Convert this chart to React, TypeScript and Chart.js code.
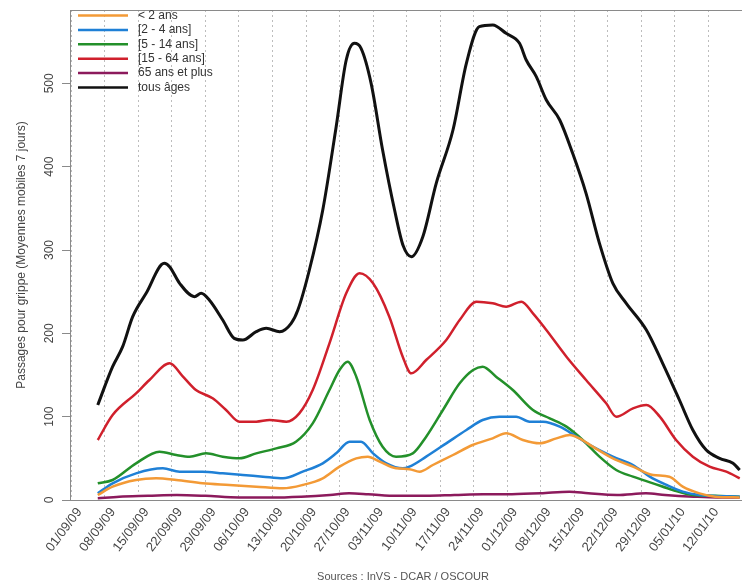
import React, { useEffect, useRef } from "react";
import Chart from "chart.js/auto";

const FONT = "'Liberation Sans', Arial, sans-serif";

const seriesLabels = ["< 2 ans", "[2 - 4 ans]", "[5 - 14 ans]", "[15 - 64 ans]", "65 ans et plus", "tous âges"];
const seriesColors = ["#f39a36", "#1f80d6", "#23902a", "#d0202c", "#8c1a5c", "#111111"];

const dateLabels = [
  "01/09/09", "08/09/09", "15/09/09", "22/09/09", "29/09/09", "06/10/09", "13/10/09",
  "20/10/09", "27/10/09", "03/11/09", "10/11/09", "17/11/09", "24/11/09", "01/12/09",
  "08/12/09", "15/12/09", "22/12/09", "29/12/09", "05/01/10", "12/01/10",
];

// days since 01/09/09
const daysUnder2 = [5.5, 8.6, 13.5, 17.7, 21.9, 27.4, 33, 38.6, 44.2, 48.3, 52.5, 56, 59.5, 61.9, 64.4, 67.8, 70.6, 72.7, 75.5, 79.7, 83.8, 88, 90.8, 94.3, 97.8, 101.3, 104.1, 106.1, 108.9, 113.1, 117.3, 121.5, 124.9, 127.7, 131.2, 134.5, 139.6];
const valuesUnder2 = [6, 16, 24, 26, 24, 20, 18, 16, 14, 18, 26, 40, 50, 52, 46, 38, 37, 34, 42, 54, 66, 74, 80, 72, 68, 74, 78, 74, 64, 50, 40, 30, 28, 16, 8, 4, 3];

const days2to4 = [5.5, 8.6, 13.5, 19.1, 22.6, 27.4, 31.6, 35.8, 40, 44.2, 48.3, 52.5, 55.3, 58.1, 60.5, 63, 65.8, 69.2, 70.6, 74.1, 78.3, 82.5, 85.9, 89.4, 92.9, 95.7, 98.5, 102, 105.5, 108.9, 113.1, 117.3, 120.8, 124.3, 127.7, 131.2, 139.6];
const values2to4 = [8, 20, 32, 38, 34, 34, 32, 30, 28, 26, 34, 44, 56, 70, 70, 56, 44, 38, 40, 52, 68, 84, 96, 100, 100, 94, 94, 88, 76, 64, 52, 42, 28, 18, 10, 6, 4];

const days5to14 = [5.5, 8.6, 13.5, 18.4, 21.9, 24.7, 28.1, 31.6, 35.1, 38.6, 42.8, 46.9, 50.4, 53.9, 56, 57.7, 59.5, 62.3, 65, 67.8, 71.3, 74.1, 77.6, 81.1, 83.9, 85.9, 88.7, 92.2, 96.4, 99.9, 103.4, 106.8, 110.3, 113.8, 117.3, 121.5, 125.6, 129.8, 134.5, 139.6];
const values5to14 = [20, 24, 44, 58, 54, 52, 56, 52, 50, 56, 62, 70, 92, 132, 156, 166, 148, 96, 64, 52, 56, 76, 108, 140, 156, 160, 148, 132, 108, 98, 88, 72, 52, 36, 28, 20, 12, 6, 5, 4];

const days15to64 = [5.5, 8.6, 13.5, 16.3, 20.5, 23.3, 26, 29.5, 32.3, 35.1, 38.6, 41.4, 44.9, 47.6, 50.4, 53.9, 57.4, 60.2, 63, 66.4, 69.2, 71, 74.1, 78.3, 81.1, 84.6, 88, 90.8, 94, 96.4, 99.2, 103.4, 107.5, 111.7, 113.8, 117.3, 120.1, 122.9, 126.3, 129.8, 133.3, 136.8, 139.6];
const values15to64 = [72, 102, 128, 144, 164, 148, 132, 122, 108, 94, 94, 96, 94, 104, 132, 188, 248, 272, 260, 220, 172, 152, 168, 192, 216, 238, 236, 232, 238, 224, 204, 172, 144, 116, 100, 110, 114, 100, 72, 52, 40, 34, 26];

const days65plus = [5.5, 10, 16, 22, 28, 35, 42, 48, 54, 58, 62, 68, 74, 80, 86, 92, 98, 104, 108, 114, 120, 124, 130, 135, 139.6];
const values65plus = [2, 4, 5, 6, 5, 3, 3, 4, 6, 8, 7, 5, 5, 6, 7, 7, 8, 10, 8, 6, 8, 6, 4, 3, 3];

const daysAll = [5.5, 8.6, 10.7, 12.8, 15.6, 19.4, 20.5, 22.6, 25.7, 27.1, 28.8, 31.6, 34, 35.8, 38.6, 40.7, 43.5, 45.9, 47.3, 49.7, 52.5, 55.3, 57.4, 59.1, 60.5, 62.6, 65, 67.5, 69.3, 71, 73.4, 76.2, 79.7, 82.5, 85.2, 88, 90.8, 93.6, 95, 97.1, 99.2, 102, 104.7, 107.5, 110.3, 113.1, 115.9, 120.1, 123.5, 127, 129.8, 132.6, 135.4, 138.2, 139.6];
const valuesAll = [114, 160, 184, 220, 248, 284, 280, 260, 244, 248, 240, 216, 194, 192, 202, 206, 202, 212, 228, 276, 348, 448, 528, 548, 542, 500, 420, 348, 305, 292, 316, 380, 444, 524, 568, 570, 560, 548, 528, 508, 480, 456, 416, 368, 308, 260, 236, 204, 164, 120, 84, 60, 50, 44, 36];

const yTitle = "Passages pour grippe (Moyennes mobiles 7 jours)";
const sourceText = "Sources : InVS - DCAR / OSCOUR";

const seriesDays = [daysUnder2, days2to4, days5to14, days15to64, days65plus, daysAll];
const seriesValues = [valuesUnder2, values2to4, values5to14, values15to64, values65plus, valuesAll];

const extrasPlugin = {
  id: "extras",
  beforeDatasetsDraw(chart: any) {
    const { ctx, chartArea } = chart;
    ctx.save();
    ctx.strokeStyle = "#8a8a8a";
    ctx.lineWidth = 1;
    ctx.strokeRect(chartArea.left + 0.5, chartArea.top + 0.5, chartArea.right - chartArea.left, chartArea.bottom - chartArea.top);
    ctx.restore();
  },
  afterDatasetsDraw(chart: any) {
    const { ctx, chartArea } = chart;
    ctx.save();
    chart.data.datasets.forEach((ds: any, i: number) => {
      const y = chartArea.top + 5.5 + i * 14.4;
      ctx.strokeStyle = ds.borderColor;
      ctx.lineWidth = 2.5;
      ctx.beginPath();
      ctx.moveTo(chartArea.left + 8, y);
      ctx.lineTo(chartArea.left + 58, y);
      ctx.stroke();
      ctx.fillStyle = "#333";
      ctx.font = `12px ${FONT}`;
      ctx.textBaseline = "middle";
      ctx.textAlign = "left";
      ctx.fillText(ds.label, chartArea.left + 68, y);
    });
    ctx.fillStyle = "#555";
    ctx.font = `11px ${FONT}`;
    ctx.textAlign = "center";
    ctx.textBaseline = "middle";
    ctx.fillText(sourceText, 403, 577);
    ctx.restore();
  },
};

export default function App() {
  const ref = useRef<HTMLCanvasElement>(null);
  useEffect(() => {
    if (!ref.current) return;
    const datasets = seriesLabels.map((label, i) => ({
      label,
      data: seriesDays[i].map((d, j) => ({ x: d, y: seriesValues[i][j] })),
      borderColor: seriesColors[i],
      backgroundColor: seriesColors[i],
      borderWidth: i === 5 ? 3 : 2.5,
      pointRadius: 0,
      cubicInterpolationMode: "monotone" as const,
      fill: false,
    }));
    const chart = new Chart(ref.current, {
      type: "line",
      data: { datasets },
      plugins: [extrasPlugin],
      options: {
        animation: false,
        responsive: false,
        devicePixelRatio: 1,
        layout: { padding: { top: 10, left: 0, right: 0, bottom: 0 } },
        plugins: { legend: { display: false }, tooltip: { enabled: false } },
        scales: {
          x: {
            type: "linear",
            min: -0.3,
            max: 150.1,
            afterFit: (s: any) => { s.height = 88; },
            afterBuildTicks: (s: any) => {
              s.ticks = dateLabels.map((_, i) => ({ value: i * 7 }));
            },
            grid: { color: "#bdbdbd", lineWidth: 1, drawTicks: false },
            border: { display: false, dash: [2, 3] },
            ticks: {
              autoSkip: false,
              minRotation: 53,
              maxRotation: 53,
              padding: 5,
              labelOffset: 8,
              color: "#444",
              font: { family: FONT, size: 13 },
              callback: (v: any) => {
                const idx = Math.round(Number(v) / 7);
                return dateLabels[idx] ?? "";
              },
            },
          },
          y: {
            min: 0,
            max: 588,
            afterFit: (s: any) => { s.width = 70; },
            grid: { drawOnChartArea: false, drawTicks: true, tickLength: 8, color: "#8a8a8a" },
            border: { display: false },
            title: {
              display: true,
              text: yTitle,
              color: "#444",
              font: { family: FONT, size: 12 },
              padding: { top: 14, bottom: 0 },
            },
            ticks: {
              stepSize: 100,
              includeBounds: false,
              minRotation: 90,
              maxRotation: 90,
              crossAlign: "center",
              padding: 2,
              color: "#444",
              font: { family: FONT, size: 12 },
            },
          },
        },
      },
    });
    return () => chart.destroy();
  }, []);
  return (
    <div style={{ position: "absolute", left: 0, top: 0, width: 742, height: 588, overflow: "hidden", background: "#fff" }}>
      <canvas ref={ref} width={790} height={588} style={{ display: "block" }} />
    </div>
  );
}
